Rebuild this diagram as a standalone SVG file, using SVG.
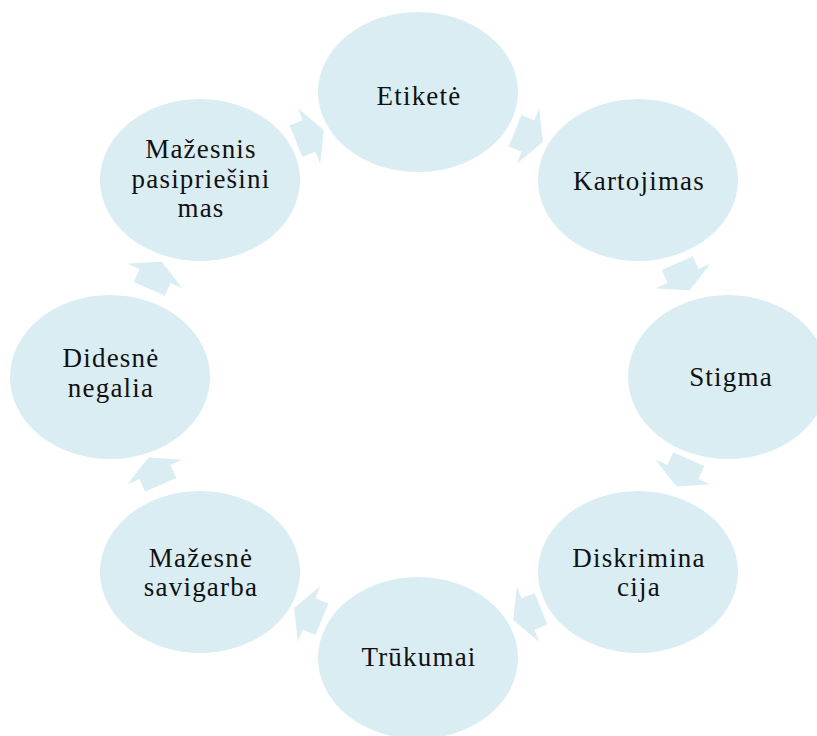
<svg xmlns="http://www.w3.org/2000/svg" xmlns:xlink="http://www.w3.org/1999/xlink" width="817" height="736" viewBox="0 0 817 736">
<style>
.node{fill:#DAEDF3}
.arr{fill:#DAEDF3}
text{font-family:"Liberation Serif","Times New Roman",serif;font-size:27px;fill:#111;text-anchor:middle;letter-spacing:1.2px}
</style>
<defs>
<path id="ar" d="M-14,-17 L0,-17 L0,-30 L16,0 L0,30 L0,17 L-14,17 Z"/>
</defs>
<rect width="817" height="736" fill="#fff"/>
<g id="connectors">
<use xlink:href="#ar" class="arr" transform="translate(528,136) rotate(22)"/>
<use xlink:href="#ar" class="arr" transform="translate(683,276) rotate(66)"/>
<use xlink:href="#ar" class="arr" transform="translate(683,472) rotate(114)"/>
<use xlink:href="#ar" class="arr" transform="translate(528,614) rotate(158)"/>
<use xlink:href="#ar" class="arr" transform="translate(309,614) rotate(202)"/>
<use xlink:href="#ar" class="arr" transform="translate(155,472) rotate(246)"/>
<use xlink:href="#ar" class="arr" transform="translate(155,276) rotate(294)"/>
<use xlink:href="#ar" class="arr" transform="translate(309,136) rotate(338)"/>
</g>
<g id="n1"><ellipse class="node" cx="418" cy="92" rx="100" ry="80"/><text x="419" y="105">Etiketė</text></g>
<g id="n2"><ellipse class="node" cx="638" cy="180" rx="100" ry="81"/><text x="639" y="190">Kartojimas</text></g>
<g id="n3"><ellipse class="node" cx="728" cy="377" rx="100" ry="82"/><text x="731" y="386">Stigma</text></g>
<g id="n4"><ellipse class="node" cx="638" cy="572" rx="100" ry="81"/><text x="639" y="567">Diskrimina</text><text x="639" y="596">cija</text></g>
<g id="n5"><ellipse class="node" cx="418" cy="658" rx="100" ry="81"/><text x="419" y="666">Trūkumai</text></g>
<g id="n6"><ellipse class="node" cx="200" cy="572" rx="100" ry="81"/><text x="201" y="567">Mažesnė</text><text x="201" y="596">savigarba</text></g>
<g id="n7"><ellipse class="node" cx="110" cy="377" rx="100" ry="82"/><text x="111" y="367">Didesnė</text><text x="111" y="397">negalia</text></g>
<g id="n8"><ellipse class="node" cx="200" cy="180" rx="100" ry="81"/><text x="201" y="158">Mažesnis</text><text x="201" y="188">pasipriešini</text><text x="201" y="217">mas</text></g>
</svg>
